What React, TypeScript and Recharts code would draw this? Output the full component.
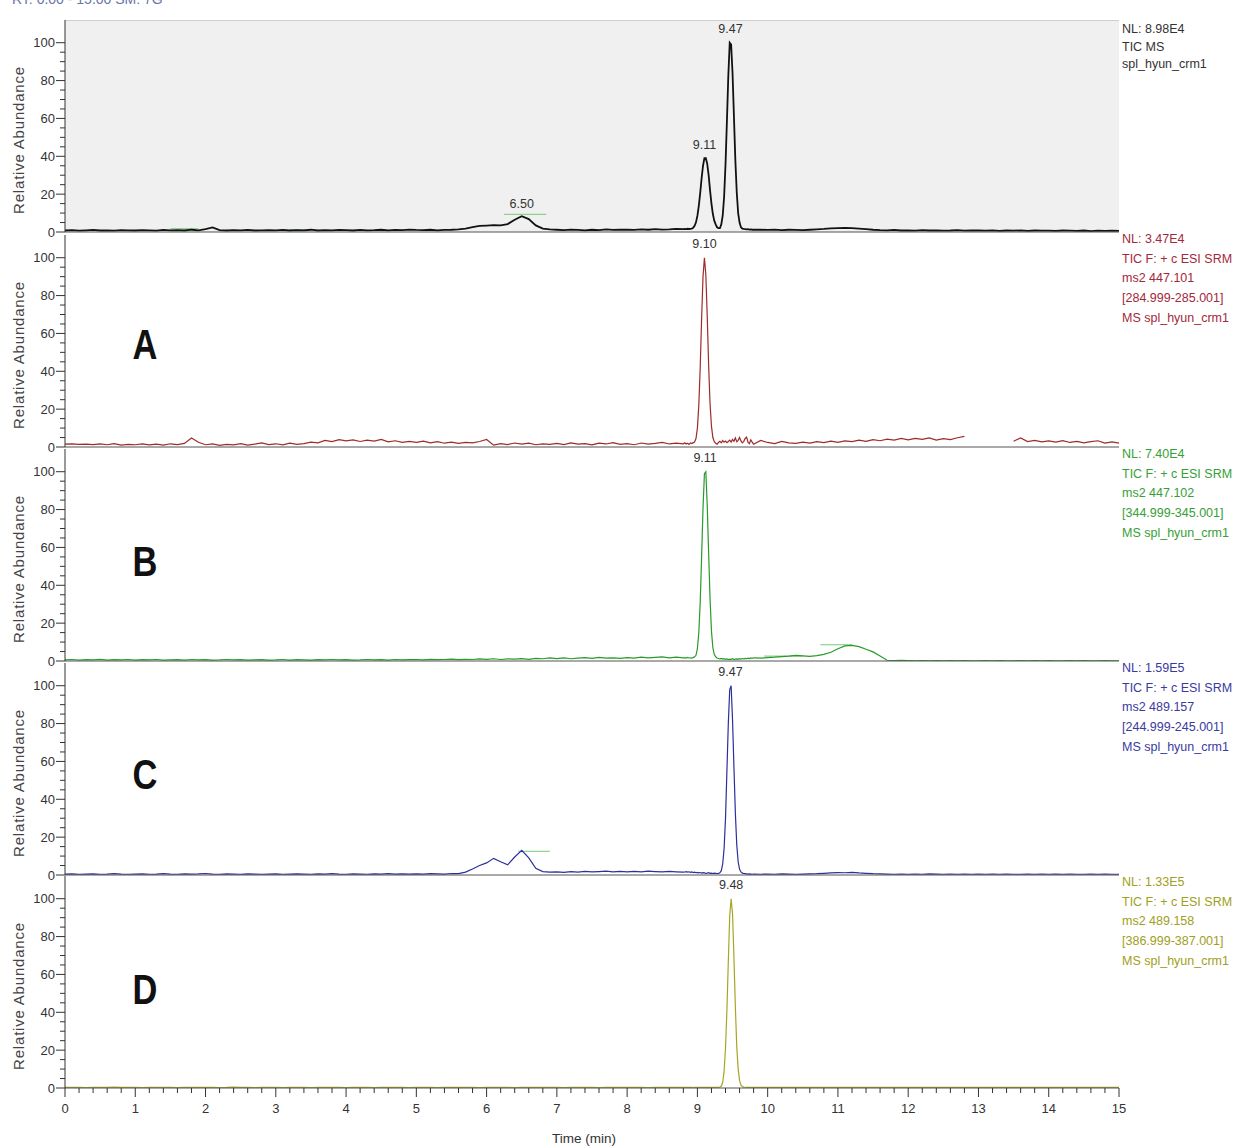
import React from 'react';
import { LineChart, Line, XAxis, YAxis, ReferenceArea, ReferenceLine, ReferenceDot } from 'recharts';

// Retention time grid (min)
const TIMES = [
  0, 0.1, 0.2, 0.3, 0.4, 0.5, 0.6, 0.7, 0.8, 0.9,
  1, 1.1, 1.2, 1.3, 1.4, 1.5, 1.6, 1.7, 1.8, 1.9,
  2, 2.1, 2.2, 2.3, 2.4, 2.5, 2.6, 2.7, 2.8, 2.9,
  3, 3.1, 3.2, 3.3, 3.4, 3.5, 3.6, 3.7, 3.8, 3.9,
  4, 4.1, 4.2, 4.3, 4.4, 4.5, 4.6, 4.7, 4.8, 4.9,
  5, 5.1, 5.2, 5.3, 5.4, 5.5, 5.6, 5.7, 5.8, 5.9,
  6, 6.1, 6.2, 6.3, 6.4, 6.5, 6.6, 6.7, 6.8, 6.9,
  7, 7.1, 7.2, 7.3, 7.4, 7.5, 7.6, 7.7, 7.8, 7.9,
  8, 8.1, 8.2, 8.3, 8.4, 8.5, 8.6, 8.7, 8.8,
  8.82, 8.84, 8.86, 8.88, 8.9, 8.92, 8.94, 8.96, 8.98, 9,
  9.02, 9.04, 9.06, 9.08, 9.1, 9.12, 9.14, 9.16, 9.18, 9.2,
  9.22, 9.24, 9.26, 9.28, 9.3, 9.32, 9.34, 9.36, 9.38, 9.4,
  9.42, 9.44, 9.46, 9.48, 9.5, 9.52, 9.54, 9.56, 9.58, 9.6,
  9.62, 9.64, 9.66, 9.68, 9.7, 9.72, 9.74, 9.76, 9.78,
  9.8, 9.9,
  10, 10.1, 10.2, 10.3, 10.4, 10.5, 10.6, 10.7, 10.8, 10.9,
  11, 11.1, 11.2, 11.3, 11.4, 11.5, 11.6, 11.7, 11.8, 11.9,
  12, 12.1, 12.2, 12.3, 12.4, 12.5, 12.6, 12.7, 12.8, 12.9,
  13, 13.1, 13.2, 13.3, 13.4, 13.5, 13.6, 13.7, 13.8, 13.9,
  14, 14.1, 14.2, 14.3, 14.4, 14.5, 14.6, 14.7, 14.8, 14.9,
  15,
];

// TIC MS (relative abundance, %)
const TIC_VALUES = [
  0.8, 1.0, 0.7, 0.9, 1.1, 0.8, 0.9, 0.7, 1.0, 0.9,
  0.8, 1.0, 0.9, 0.7, 1.1, 0.9, 1.0, 0.8, 1.2, 0.9,
  1.5, 2.4, 1.0, 0.8, 1.0, 0.9, 1.1, 0.8, 0.9, 1.0,
  0.9, 1.1, 0.8, 1.0, 0.9, 1.2, 0.8, 1.0, 0.9, 1.1,
  1.0, 0.8, 1.1, 0.9, 1.0, 1.2, 0.9, 1.1, 1.0, 1.3,
  1.1, 1.0, 1.2, 0.9, 1.1, 1.2, 1.4, 1.8, 2.6, 3.2,
  3.4, 3.6, 3.5, 4.2, 6.5, 8.3, 6.8, 3.5, 1.8, 1.4,
  1.2, 1.0, 1.3, 1.1, 0.9, 1.2, 1.0, 1.4, 1.1, 1.2,
  1.3, 1.1, 1.4, 1.2, 1.5, 1.3, 1.4, 1.6, 1.5,
  1.6, 1.5, 1.7, 1.6, 1.7, 1.8, 2.2, 3.3, 5.1, 8.6,
  13.8, 20.7, 28.4, 35, 39, 39, 36, 30, 22, 15,
  9.5, 6, 4, 2.5, 2, 2, 4, 8.6, 18.5, 35.5,
  58.5, 82.5, 100, 99, 84, 61, 38, 21, 10, 5,
  2.5, 1.8, 1.6, 1.5, 1.4, 1.5, 1.3, 1.4, 1.2,
  1.3, 1.2,
  1.1, 1.3, 1.0, 1.2, 1.1, 1.0, 1.2, 1.4, 1.6, 1.9,
  2.1, 2.2, 2.0, 1.8, 1.5, 1.2, 1.0, 0.9, 1.1, 0.8,
  0.9, 0.7, 1.0, 0.8, 0.9, 0.7, 0.8, 1.0, 0.7, 0.9,
  0.8, 0.7, 0.9, 0.6, 0.8, 0.7, 0.9, 0.6, 0.8, 0.7,
  0.7, 0.6, 0.8, 0.7, 0.6, 0.8, 0.5, 0.7, 0.6, 0.7,
  0.6,
];

// A: SRM 447.101 -> 284.999-285.001
const A_VALUES = [
  1.5, 1.6, 1.4, 1.5, 1.3, 1.6, 1.2, 1.8, 1.0, 1.4,
  1.2, 1.6, 1.1, 1.5, 1.0, 1.7, 1.3, 1.9, 4.8, 2.5,
  1.2, 1.6, 0.9, 1.4, 1.1, 1.8, 1.0, 1.5, 2.2, 1.3,
  1.7, 1.1, 2.0, 1.4, 1.8, 2.6, 2.2, 3.5, 2.8, 3.9,
  3.2, 3.8, 2.9, 3.6, 3.1, 4.0, 2.7, 3.3, 2.5, 3.0,
  2.4, 3.1, 2.2, 2.8, 2.0, 2.6, 1.9, 2.4, 2.2, 2.9,
  4.0, 1.0, 1.8, 1.3, 2.1, 1.5, 2.0, 1.2, 1.7, 1.4,
  1.9, 1.3, 2.2, 1.5, 1.8, 1.1, 2.0, 1.6, 2.3, 1.4,
  1.8, 1.2, 2.1, 1.5, 1.9, 2.4, 1.6, 2.0, 1.7,
  2.2, 1.6, 2.0, 1.4, 2.1, 1.8, 2.3, 2.6, 4.5, 10,
  22, 42, 68, 90, 100, 91, 69, 43, 23, 11,
  5, 2.8, 2.0, 1.5, 2.4, 3.0, 2.2, 3.4, 2.5, 3.1,
  2.3, 2.9, 3.6, 2.6, 4.0, 3.0, 4.8, 2.8, 3.5, 5.0,
  3.2, 2.2, 3.0, 4.5, 5.2, 2.5, 1.8, 3.8, 2.6,
  1.5, 3.5,
  2.4, 1.8, 3.0, 2.2, 1.9, 2.6, 2.1, 2.8, 2.3, 3.1,
  2.5, 3.2, 2.8, 3.6, 3.0, 3.9, 3.3, 4.2, 3.6, 4.5,
  3.8, 4.6, 4.0, 4.8, 3.6, 4.4, 3.9, 4.9, 5.6, null,
  null, null, null, null, null, 3.0, 4.8, 2.9, 3.5, 2.7,
  3.2, 2.6, 3.4, 2.4, 3.0, 2.2, 2.8, 3.3, 2.1, 2.7,
  2.0,
];

// B: SRM 447.102 -> 344.999-345.001
const B_VALUES = [
  0.6, 0.8, 0.5, 0.7, 0.6, 0.9, 0.5, 0.7, 0.6, 0.8,
  0.5, 0.7, 0.6, 0.8, 0.5, 0.6, 0.7, 0.5, 0.8, 0.6,
  0.7, 0.5, 0.6, 0.8, 0.6, 0.7, 0.5, 0.6, 0.7, 0.5,
  0.6, 0.8, 0.5, 0.7, 0.6, 0.5, 0.7, 0.6, 0.8, 0.6,
  0.7, 0.5, 0.6, 0.8, 0.6, 0.7, 0.5, 0.8, 0.6, 0.7,
  0.8, 0.6, 0.9, 0.7, 0.8, 1.0, 0.7, 0.9, 0.8, 1.1,
  0.9, 1.2, 0.8, 1.1, 1.0, 1.3, 0.9, 1.4, 1.2, 1.6,
  1.3, 1.7, 1.2, 1.5, 1.8, 1.4, 1.9, 1.5, 1.7, 1.4,
  1.8, 1.5, 2.0, 1.6, 1.9, 2.2, 1.7, 2.0, 1.6,
  1.8, 1.5, 1.9, 1.6, 1.7, 1.5, 1.8, 2.2, 3.0, 6.5,
  15, 31, 55, 81, 99, 100, 82, 57, 33, 16,
  7, 3.5, 2.2, 1.6, 1.3, 1.1, 1.4, 1.0, 1.2, 0.9,
  1.1, 0.8, 1.0, 0.9, 1.2, 0.8, 1.0, 1.1, 0.9, 1.2,
  1.0, 1.3, 1.1, 1.4, 1.2, 1.5, 1.3, 1.6, 1.4,
  1.7, 1.5,
  1.8, 2.0, 2.3, 2.6, 3.0, 2.7, 2.4, 2.8, 3.5, 4.6,
  6.5, 8.0, 8.3, 7.6, 6.2, 4.8, 2.6, 0.4, 0.2, 0.3,
  0.2, 0.1, 0.2, 0.1, 0.2, 0.1, 0.2, 0.1, 0.2, 0.1,
  0.1, 0.2, 0.1, 0.2, 0.1, 0.1, 0.2, 0.1, 0.2, 0.1,
  0.2, 0.1, 0.1, 0.2, 0.1, 0.2, 0.1, 0.1, 0.2, 0.1,
  0.1,
];

// C: SRM 489.157 -> 244.999-245.001
const C_VALUES = [
  0.5, 0.6, 0.4, 0.5, 0.6, 0.4, 0.5, 0.7, 0.5, 0.4,
  0.5, 0.6, 0.4, 0.5, 0.7, 0.5, 0.4, 0.6, 0.5, 0.6,
  0.8, 0.5, 0.4, 0.6, 0.5, 0.4, 0.6, 0.5, 0.4, 0.5,
  0.6, 0.4, 0.5, 0.6, 0.5, 0.4, 0.6, 0.5, 0.7, 0.5,
  0.4, 0.6, 0.5, 0.4, 0.6, 0.5, 0.7, 0.5, 0.6, 0.5,
  0.6, 0.5, 0.7, 0.6, 0.5, 0.8, 0.7, 1.5, 3.2, 5.0,
  6.4, 8.8, 7.0, 5.4, 9.5, 13.0, 9.0, 3.5, 1.8, 1.5,
  1.7, 1.4, 1.8, 1.5, 1.9, 1.6, 1.8, 2.0, 1.7, 1.9,
  1.6, 1.9, 1.7, 2.0, 1.8, 1.6, 1.9, 1.7, 1.5,
  1.6, 1.8, 1.5, 1.7, 1.4, 1.6, 1.3, 1.5, 1.2, 1.4,
  1.1, 1.3, 1.0, 1.2, 1.1, 0.9, 1.0, 1.2, 0.9, 1.0,
  0.8, 1.0, 0.9, 0.8, 0.9, 1.2, 2.3, 5.8, 14, 30,
  55, 80, 98, 100, 82, 57, 33, 16, 7, 3,
  1.6, 1.0, 0.8, 0.7, 0.6, 0.5, 0.6, 0.5, 0.4,
  0.5, 0.4,
  0.5, 0.4, 0.6, 0.5, 0.4, 0.5, 0.6, 0.7, 0.9, 1.1,
  1.3, 1.2, 1.4, 1.1, 0.9, 0.7, 0.6, 0.5, 0.4, 0.5,
  0.4, 0.5, 0.4, 0.6, 0.5, 0.4, 0.5, 0.4, 0.5, 0.4,
  0.5, 0.4, 0.5, 0.4, 0.5, 0.4, 0.4, 0.5, 0.4, 0.5,
  0.4, 0.5, 0.4, 0.5, 0.4, 0.4, 0.5, 0.4, 0.5, 0.4,
  0.4,
];

// D: SRM 489.158 -> 386.999-387.001
const D_VALUES = [
  0.3, 0.4, 0.3, 0.2, 0.4, 0.3, 0.3, 0.5, 0.3, 0.4,
  0.3, 0.2, 0.4, 0.3, 0.3, 0.4, 0.2, 0.3, 0.4, 0.3,
  0.3, 0.4, 0.2, 0.3, 0.5, 0.3, 0.3, 0.2, 0.4, 0.3,
  0.3, 0.2, 0.4, 0.3, 0.3, 0.2, 0.4, 0.3, 0.3, 0.4,
  0.2, 0.3, 0.4, 0.3, 0.2, 0.3, 0.3, 0.4, 0.3, 0.2,
  0.3, 0.4, 0.3, 0.2, 0.3, 0.3, 0.4, 0.3, 0.3, 0.2,
  0.3, 0.4, 0.3, 0.3, 0.2, 0.4, 0.3, 0.3, 0.4, 0.3,
  0.3, 0.2, 0.4, 0.3, 0.3, 0.4, 0.2, 0.3, 0.3, 0.4,
  0.3, 0.4, 0.3, 0.2, 0.3, 0.4, 0.3, 0.3, 0.4,
  0.3, 0.4, 0.3, 0.3, 0.4, 0.3, 0.2, 0.3, 0.4, 0.3,
  0.3, 0.4, 0.3, 0.3, 0.4, 0.3, 0.4, 0.3, 0.3, 0.4,
  0.3, 0.4, 0.3, 0.4, 0.3, 0.5, 0.9, 3.0, 8.8, 21,
  41, 67, 91, 100, 92, 69, 43, 22, 10, 4,
  1.5, 0.8, 0.5, 0.4, 0.3, 0.4, 0.3, 0.3, 0.4,
  0.3, 0.4,
  0.3, 0.3, 0.4, 0.3, 0.3, 0.4, 0.3, 0.3, 0.4, 0.3,
  0.4, 0.3, 0.3, 0.4, 0.3, 0.3, 0.4, 0.3, 0.4, 0.3,
  0.3, 0.4, 0.3, 0.3, 0.4, 0.3, 0.3, 0.4, 0.3, 0.3,
  0.4, 0.3, 0.3, 0.4, 0.3, 0.3, 0.4, 0.3, 0.3, 0.4,
  0.3, 0.3, 0.4, 0.3, 0.4, 0.3, 0.3, 0.4, 0.3, 0.3,
  0.3,
];

// Peak apex labels
const TIC_PEAKS = [
  { t: 6.5, v: 8.3, label: '6.50', offset: 8 },
  { t: 9.1, v: 39, label: '9.11', offset: 9 },
  { t: 9.47, v: 100, label: '9.47', offset: 10 },
];
const A_PEAKS = [{ t: 9.1, v: 100, label: '9.10', offset: 10 }];
const B_PEAKS = [{ t: 9.11, v: 100, label: '9.11', offset: 10 }];
const C_PEAKS = [{ t: 9.47, v: 100, label: '9.47', offset: 10 }];
const D_PEAKS = [{ t: 9.48, v: 100, label: '9.48', offset: 10 }];

// Integration baseline marks
const TIC_MARKS = [
  { t1: 6.25, t2: 6.85, v: 9.3 },
  { t1: 1.5, t2: 1.9, v: 1.8 },
  { t1: 3.2, t2: 3.5, v: 1.2 },
];
const B_MARKS = [
  { t1: 9.95, t2: 10.5, v: 2.6 },
  { t1: 10.75, t2: 11.2, v: 8.6 },
];
const C_MARKS = [{ t1: 6.45, t2: 6.9, v: 12.5 }];

// Side annotations
const TIC_NOTES = ['NL: 8.98E4', 'TIC  MS', 'spl_hyun_crm1'];
const A_NOTES = ['NL: 3.47E4', 'TIC F: + c ESI SRM', 'ms2 447.101', '[284.999-285.001]', 'MS spl_hyun_crm1'];
const B_NOTES = ['NL: 7.40E4', 'TIC F: + c ESI SRM', 'ms2 447.102', '[344.999-345.001]', 'MS spl_hyun_crm1'];
const C_NOTES = ['NL: 1.59E5', 'TIC F: + c ESI SRM', 'ms2 489.157', '[244.999-245.001]', 'MS spl_hyun_crm1'];
const D_NOTES = ['NL: 1.33E5', 'TIC F: + c ESI SRM', 'ms2 489.158', '[386.999-387.001]', 'MS spl_hyun_crm1'];

const X_MAJOR_TICKS = [0, 1, 2, 3, 4, 5, 6, 7, 8, 9, 10, 11, 12, 13, 14, 15];
const Y_MAJOR_TICKS = [0, 20, 40, 60, 80, 100];

const X_TICKS: number[] = [];
X_MAJOR_TICKS.forEach((m, i) => {
  X_TICKS.push(m);
  if (i < X_MAJOR_TICKS.length - 1) {
    for (let k = 1; k < 5; k++) X_TICKS.push(Math.round((m + k * 0.2) * 100) / 100);
  }
});
const Y_TICKS: number[] = [];
Y_MAJOR_TICKS.forEach((m, i) => {
  Y_TICKS.push(m);
  if (i < Y_MAJOR_TICKS.length - 1) {
    for (let k = 1; k < 4; k++) Y_TICKS.push(m + k * 5);
  }
});

const SANS = '"Liberation Sans", Arial, sans-serif';

const PLOT_H = 212;
const LEFT = 65;
const RIGHT_MARGIN = 127;
const Y_MAX = 112;
const SPILL = 12;

const YTick = (props: any) => {
  const { x, y, payload } = props;
  const v = payload.value;
  const major = v % 20 === 0;
  return (
    <g>
      <line x1={x - (major ? 9 : 5)} x2={x} y1={y} y2={y} stroke="#333" strokeWidth={1} />
      {major && (
        <text x={x - 10} y={y} dy={4.5} textAnchor="end" fontSize={13} fill="#333" fontFamily={SANS}>
          {v}
        </text>
      )}
    </g>
  );
};

const XTick = (props: any) => {
  const { x, y, payload } = props;
  const v = payload.value;
  const major = Math.abs(v - Math.round(v)) < 1e-6;
  return (
    <g>
      <line x1={x} x2={x} y1={y} y2={y + (major ? 9 : 5)} stroke="#333" strokeWidth={1} />
      {major && (
        <text x={x} y={y + 25} textAnchor="middle" fontSize={13} fill="#333" fontFamily={SANS}>
          {Math.round(v)}
        </text>
      )}
    </g>
  );
};

type Peak = { t: number; v: number; label: string; offset: number };
type Mark = { t1: number; t2: number; v: number };

function Panel(props: {
  values: (number | null)[];
  color: string;
  width: number;
  top: number;
  bottomAxis?: boolean;
  shaded?: boolean;
  peaks: Peak[];
  marks?: Mark[];
  markColor?: string;
}) {
  const { values, color, width, top, bottomAxis, shaded, peaks, marks = [], markColor = '#8fd18f' } = props;
  const data = TIMES.map((t, i) => ({ t, v: values[i] }));
  const xAxisH = bottomAxis ? 40 : 1;
  const bottomMargin = bottomAxis ? 0 : SPILL;
  const height = PLOT_H + xAxisH + bottomMargin;
  return (
    <div style={{ position: 'absolute', left: 0, top, width: 1246, height }}>
      <LineChart
        width={1246}
        height={height}
        data={data}
        margin={{ top: 0, right: RIGHT_MARGIN, bottom: bottomMargin, left: 0 }}
      >
        {shaded && (
          <ReferenceArea x1={0} x2={15} y1={0} y2={Y_MAX} fill="#f0f0f0" fillOpacity={1} stroke="none" />
        )}
        {shaded && <ReferenceLine y={Y_MAX} stroke="#c4c4c4" strokeWidth={1.5} />}
        <XAxis
          type="number"
          dataKey="t"
          domain={[0, 15]}
          allowDataOverflow
          ticks={bottomAxis ? X_TICKS : []}
          interval={0}
          height={xAxisH}
          tickSize={0}
          tickMargin={0}
          tick={bottomAxis ? <XTick /> : false}
          tickLine={false}
          axisLine={{ stroke: '#555', strokeWidth: 1.2 }}
        />
        <YAxis
          type="number"
          domain={[0, Y_MAX]}
          allowDataOverflow
          ticks={Y_TICKS}
          interval={0}
          width={LEFT}
          tickSize={0}
          tickMargin={0}
          tick={<YTick />}
          tickLine={false}
          axisLine={{ stroke: '#333', strokeWidth: 1 }}
        />
        {marks.map((m, i) => (
          <ReferenceLine
            key={'m' + i}
            segment={[{ x: m.t1, y: m.v }, { x: m.t2, y: m.v }]}
            stroke={markColor}
            strokeWidth={1.2}
          />
        ))}
        <Line
          type="linear"
          dataKey="v"
          stroke={color}
          strokeWidth={width}
          dot={false}
          activeDot={false}
          connectNulls={false}
          isAnimationActive={false}
        />
        {peaks.map((p, i) => (
          <ReferenceDot
            key={'p' + i}
            x={p.t}
            y={p.v}
            r={0}
            fill="none"
            stroke="none"
            label={{ value: p.label, position: 'top', offset: p.offset, fill: '#333', fontSize: 12.5, fontFamily: SANS }}
          />
        ))}
      </LineChart>
    </div>
  );
}

function Notes({ lines, color, top, lineHeight }: { lines: string[]; color: string; top: number; lineHeight: number }) {
  return (
    <div
      style={{
        position: 'absolute',
        left: 1122,
        top,
        fontFamily: SANS,
        fontSize: 12.5,
        lineHeight: lineHeight + 'px',
        color,
        whiteSpace: 'nowrap',
      }}
    >
      {lines.map((l, i) => (
        <div key={i}>{l}</div>
      ))}
    </div>
  );
}

function YLabel({ center }: { center: number }) {
  return (
    <div
      style={{
        position: 'absolute',
        left: 18,
        top: center,
        transform: 'translate(-50%, -50%) rotate(-90deg)',
        fontFamily: SANS,
        fontSize: 15,
        letterSpacing: 0.8,
        color: '#444',
        whiteSpace: 'nowrap',
      }}
    >
      Relative Abundance
    </div>
  );
}

function Letter({ text, x, y }: { text: string; x: number; y: number }) {
  return (
    <div
      style={{
        position: 'absolute',
        left: x,
        top: y,
        transform: 'translate(-50%, -50%) scaleX(0.82)',
        fontFamily: SANS,
        fontWeight: 'bold',
        fontSize: 42,
        color: '#111',
      }}
    >
      {text}
    </div>
  );
}

const PANEL_TOPS = [20, 235, 449, 663, 876];

export default function App() {
  return (
    <div
      style={{
        position: 'absolute',
        left: 0,
        top: 0,
        width: 1246,
        height: 1147,
        background: '#fff',
        overflow: 'hidden',
        fontFamily: SANS,
      }}
    >
      <div style={{ position: 'absolute', left: 12, top: -9, fontSize: 14, color: '#6a74a8', fontFamily: SANS, whiteSpace: 'nowrap' }}>
        RT: 0.00 - 15.00 SM: 7G
      </div>

      <Panel values={TIC_VALUES} color="#111" width={1.8} top={PANEL_TOPS[0]} shaded peaks={TIC_PEAKS} marks={TIC_MARKS} />
      <Panel values={A_VALUES} color="#9e2b2b" width={1.2} top={PANEL_TOPS[1]} peaks={A_PEAKS} />
      <Panel values={B_VALUES} color="#2a9a2a" width={1.2} top={PANEL_TOPS[2]} peaks={B_PEAKS} marks={B_MARKS} />
      <Panel values={C_VALUES} color="#2e2e9c" width={1.2} top={PANEL_TOPS[3]} peaks={C_PEAKS} marks={C_MARKS} />
      <Panel values={D_VALUES} color="#a6a626" width={1.2} top={PANEL_TOPS[4]} bottomAxis peaks={D_PEAKS} />

      {PANEL_TOPS.map((t, i) => (
        <YLabel key={i} center={t + 120} />
      ))}

      <Letter text="A" x={145} y={345} />
      <Letter text="B" x={145} y={562} />
      <Letter text="C" x={145} y={775} />
      <Letter text="D" x={145} y={990} />

      <Notes lines={TIC_NOTES} color="#333" top={21} lineHeight={17.5} />
      <Notes lines={A_NOTES} color="#a3283a" top={230} lineHeight={19.7} />
      <Notes lines={B_NOTES} color="#35a035" top={445} lineHeight={19.7} />
      <Notes lines={C_NOTES} color="#3a3aa0" top={659} lineHeight={19.7} />
      <Notes lines={D_NOTES} color="#a0a020" top={873} lineHeight={19.7} />

      <div
        style={{
          position: 'absolute',
          left: 584,
          top: 1131,
          transform: 'translateX(-50%)',
          fontSize: 13.5,
          lineHeight: '15px',
          color: '#333',
          fontFamily: SANS,
          whiteSpace: 'nowrap',
        }}
      >
        Time (min)
      </div>
    </div>
  );
}
